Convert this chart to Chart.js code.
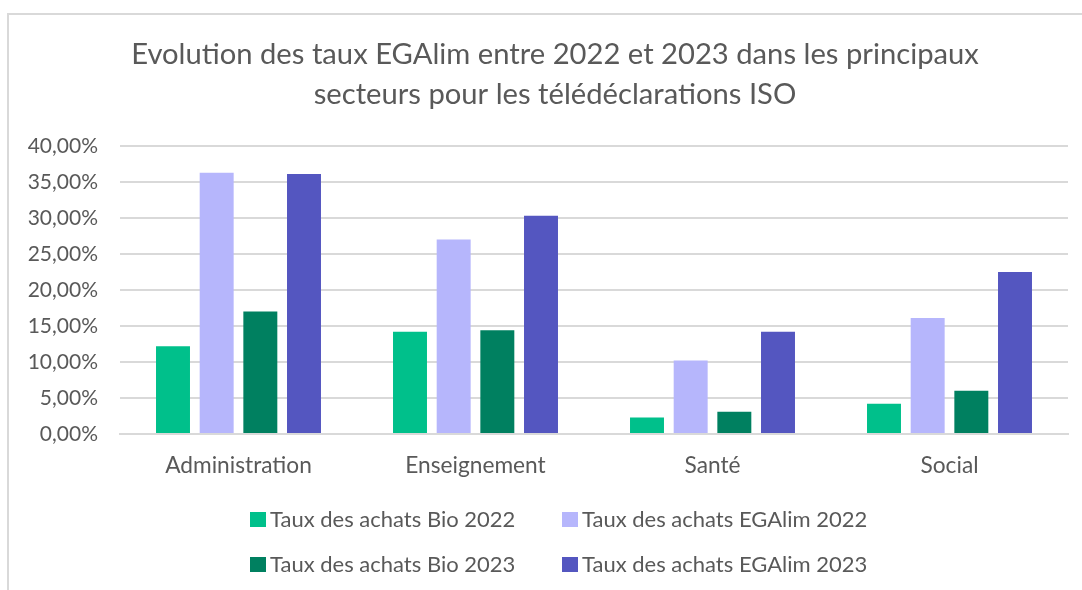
<!DOCTYPE html>
<html lang="fr">
<head>
<meta charset="utf-8">
<title>Evolution des taux EGAlim</title>
<script src="https://cdn.jsdelivr.net/npm/chart.js@4.4.1/dist/chart.umd.min.js"></script>
<style>
  html, body { margin: 0; padding: 0; background: #fff; }
  .wrap { position: relative; width: 1082px; height: 590px; overflow: hidden; }
  .frame { position: absolute; left: 7px; top: 13px; width: 1100px; height: 600px;
           border-left: 2px solid #d9d9d9; border-top: 2px solid #d9d9d9; box-sizing: border-box; }
  canvas { position: absolute; left: 0; top: 0; }
  .legend { position: absolute; left: 0; top: 0; font-family: Lato, sans-serif; font-size: 22px; color: #595959; }
  .legend-item { position: absolute; display: flex; align-items: center; white-space: nowrap; transform: translateY(-50%); line-height: 1; }
  .legend-item span.box { display: inline-block; width: 16px; height: 15px; margin-right: 4px; }
</style>
</head>
<body>
<div class="wrap">
  <div class="frame"></div>
  <canvas id="chart" width="1082" height="590"></canvas>
  <div class="legend" id="legend"></div>
</div>
<script>
const titleLines = [
  "Evolution des taux EGAlim entre 2022 et 2023 dans les principaux",
  "secteurs pour les télédéclarations ISO",
];
const sectors = ["Administration", "Enseignement", "Santé", "Social"];
const seriesNames = [
  "Taux des achats Bio 2022",
  "Taux des achats EGAlim 2022",
  "Taux des achats Bio 2023",
  "Taux des achats EGAlim 2023",
];
const bio2022 = [12.2, 14.2, 2.3, 4.2];
const egalim2022 = [36.3, 27.0, 10.2, 16.1];
const bio2023 = [17.0, 14.4, 3.1, 6.0];
const egalim2023 = [36.1, 30.3, 14.2, 22.5];
const seriesColors = ["#00c08b", "#b6b6fc", "#008060", "#5456c0"];
const yTicks = [0, 5, 10, 15, 20, 25, 30, 35, 40];

const textColor = "#595959";
const gridColor = "#d9d9d9";

const allSeries = [bio2022, egalim2022, bio2023, egalim2023];
const datasets = allSeries.map((values, i) => ({
  label: seriesNames[i],
  data: values,
  backgroundColor: seriesColors[i],
  borderWidth: 0,
  categoryPercentage: 0.737,
  barPercentage: 0.778,
}));

function frPercent(v) {
  return v.toFixed(2).replace(".", ",") + "%";
}

// the title in the original is centred on the whole frame, not on the plot
const shiftTitle = {
  id: "shiftTitle",
  afterLayout(chart) {
    const t = chart.titleBlock;
    if (!t) return;
    t.left = 42;
    t.right = chart.chartArea.right;
    t.width = t.right - t.left;
  },
};

new Chart(document.getElementById("chart"), {
  type: "bar",
  data: { labels: sectors, datasets: datasets },
  plugins: [shiftTitle],
  options: {
    responsive: false,
    animation: false,
    layout: { padding: { left: 8, right: 14, top: 0, bottom: 106 } },
    plugins: {
      legend: { display: false },
      tooltip: { enabled: false },
      title: {
        display: true,
        text: titleLines,
        color: textColor,
        font: { family: "Lato, sans-serif", size: 29.2, weight: "normal", lineHeight: 1.37 },
        padding: { top: 35, bottom: 31 },
      },
    },
    scales: {
      x: {
        grid: { display: false },
        border: { color: gridColor, width: 2 },
        ticks: { color: textColor, font: { family: "Lato, sans-serif", size: 22.7 }, padding: 10 },
        afterFit: (scale) => { scale.height = 50; },
      },
      y: {
        min: 0,
        max: 40,
        afterBuildTicks: (scale) => { scale.ticks = yTicks.map((v) => ({ value: v })); },
        grid: { color: gridColor, lineWidth: 2, drawTicks: false },
        border: { display: false },
        ticks: {
          color: textColor,
          font: { family: "Lato, sans-serif", size: 21 },
          padding: 22,
          callback: (v) => frPercent(v),
        },
        afterFit: (scale) => { scale.width = 112; },
      },
    },
  },
});

// legend laid out as two columns like the original
const legendEl = document.getElementById("legend");
const legendPos = [[250, 519], [562, 519], [250, 564], [562, 564]];
seriesNames.forEach((name, i) => {
  const item = document.createElement("div");
  item.className = "legend-item";
  item.style.left = legendPos[i][0] + "px";
  item.style.top = legendPos[i][1] + "px";
  item.innerHTML = `<span class="box" style="background:${seriesColors[i]}"></span><span>${name}</span>`;
  legendEl.appendChild(item);
});
</script>
</body>
</html>
